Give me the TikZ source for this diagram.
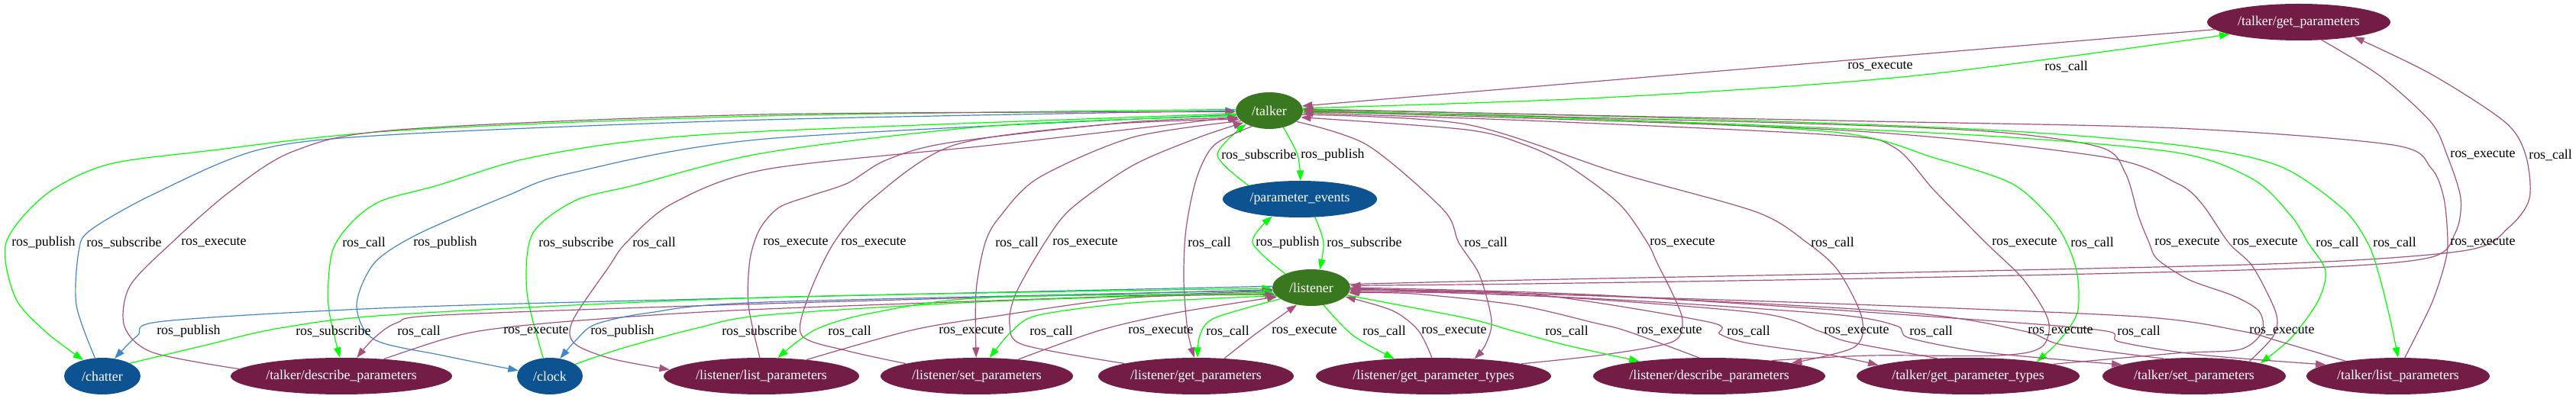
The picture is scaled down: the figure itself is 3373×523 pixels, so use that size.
\documentclass[tikz,border=0pt]{standalone}
\usepackage{fontspec}
\setmainfont{Liberation Serif}
\usetikzlibrary{shapes.geometric,arrows.meta,backgrounds}
\definecolor{rosgreen}{RGB}{58,120,32}
\definecolor{topicblue}{RGB}{14,83,145}
\definecolor{srvplum}{RGB}{114,28,70}
\definecolor{linegreen}{RGB}{0,255,0}
\definecolor{lineblue}{RGB}{64,134,200}
\definecolor{lineplum}{RGB}{165,80,125}

\begin{document}
\begin{tikzpicture}[x=0.75pt,y=-0.75pt,
	rosnode/.style={ellipse,fill=rosgreen,text=white,inner sep=0pt,minimum height=36pt,minimum width=#1*1.5pt,font=\fontsize{13.4pt}{16pt}\selectfont},
	topic/.style={ellipse,fill=topicblue,text=white,inner sep=0pt,minimum height=36pt,minimum width=#1*1.5pt,font=\fontsize{13.4pt}{16pt}\selectfont},
	service/.style={ellipse,fill=srvplum,text=white,inner sep=0pt,minimum height=36pt,minimum width=#1*1.5pt,font=\fontsize{13.4pt}{16pt}\selectfont},
	lbl/.style={anchor=west,inner sep=0pt,font=\fontsize{13.4pt}{16pt}\selectfont},
	gedge/.style={draw=linegreen,line width=0.9pt,-{Triangle[length=10pt,width=7pt]}},
	bedge/.style={draw=lineblue,line width=0.9pt,-{Triangle[length=10pt,width=7pt]}},
	pedge/.style={draw=lineplum,line width=0.9pt,-{Triangle[length=10pt,width=7pt]}}]
	\useasboundingbox (0,0) rectangle (3373,523);
			\node[service=120] (tgp) at (3010,29) {/talker/get\_parameters};
			\node[rosnode=44] (talker) at (1662,145) {/talker};
			\node[topic=101] (pe) at (1702,261) {/parameter\_events};
			\node[rosnode=51] (listener) at (1717,377) {/listener};
			\node[topic=50] (chatter) at (134,493) {/chatter};
			\node[service=145] (tdp) at (447,493) {/talker/describe\_parameters};
			\node[topic=43] (clock) at (720,493) {/clock};
			\node[service=128] (llp) at (997,493) {/listener/list\_parameters};
			\node[service=126] (lsp) at (1279,493) {/listener/set\_parameters};
			\node[service=128] (lgp) at (1566,493) {/listener/get\_parameters};
			\node[service=154] (lgpt) at (1877,493) {/listener/get\_parameter\_types};
			\node[service=152] (ldp) at (2238,493) {/listener/describe\_parameters};
			\node[service=146] (tgpt) at (2577,493) {/talker/get\_parameter\_types};
			\node[service=120] (tsp) at (2873,493) {/talker/set\_parameters};
			\node[service=120] (tlp) at (3140,493) {/talker/list\_parameters};

			\node[lbl] (l1) at (2419,87) {ros\_execute};
			\node[lbl] (l2) at (2677,87) {ros\_call};
			\node[lbl] (l3) at (1599,203) {ros\_subscribe};
			\node[lbl] (l4) at (1703,203) {ros\_publish};
			\node[lbl] (l5) at (3208,203) {ros\_execute};
			\node[lbl] (l6) at (3311,203) {ros\_call};
			\node[lbl] (l7) at (15,318) {ros\_publish};
			\node[lbl] (l8) at (113,318) {ros\_subscribe};
			\node[lbl] (l9) at (237,318) {ros\_execute};
			\node[lbl] (l10) at (448,318) {ros\_call};
			\node[lbl] (l11) at (541,318) {ros\_publish};
			\node[lbl] (l12) at (705,318) {ros\_subscribe};
			\node[lbl] (l13) at (828,318) {ros\_call};
			\node[lbl] (l14) at (999,318) {ros\_execute};
			\node[lbl] (l15) at (1101,318) {ros\_execute};
			\node[lbl] (l16) at (1303,318) {ros\_call};
			\node[lbl] (l17) at (1378,318) {ros\_execute};
			\node[lbl] (l18) at (1555,318) {ros\_call};
			\node[lbl] (l19) at (1644,318) {ros\_publish};
			\node[lbl] (l20) at (1737,318) {ros\_subscribe};
			\node[lbl] (l21) at (1917,318) {ros\_call};
			\node[lbl] (l22) at (2160,318) {ros\_execute};
			\node[lbl] (l23) at (2371,318) {ros\_call};
			\node[lbl] (l24) at (2608,318) {ros\_execute};
			\node[lbl] (l25) at (2711,318) {ros\_call};
			\node[lbl] (l26) at (2821,318) {ros\_execute};
			\node[lbl] (l27) at (2923,318) {ros\_execute};
			\node[lbl] (l28) at (3032,318) {ros\_call};
			\node[lbl] (l29) at (3107,318) {ros\_call};
			\node[lbl] (l30) at (3208,318) {ros\_execute};
			\node[lbl] (l31) at (205,434) {ros\_publish};
			\node[lbl] (l32) at (387,434) {ros\_subscribe};
			\node[lbl] (l33) at (520,434) {ros\_call};
			\node[lbl] (l34) at (659,434) {ros\_execute};
			\node[lbl] (l35) at (773,434) {ros\_publish};
			\node[lbl] (l36) at (945,434) {ros\_subscribe};
			\node[lbl] (l37) at (1084,434) {ros\_call};
			\node[lbl] (l38) at (1229,434) {ros\_execute};
			\node[lbl] (l39) at (1348,434) {ros\_call};
			\node[lbl] (l40) at (1477,434) {ros\_execute};
			\node[lbl] (l41) at (1579,434) {ros\_call};
			\node[lbl] (l42) at (1665,434) {ros\_execute};
			\node[lbl] (l43) at (1784,434) {ros\_call};
			\node[lbl] (l44) at (1861,434) {ros\_execute};
			\node[lbl] (l45) at (2023,434) {ros\_call};
			\node[lbl] (l46) at (2143,434) {ros\_execute};
			\node[lbl] (l47) at (2261,434) {ros\_call};
			\node[lbl] (l48) at (2388,434) {ros\_execute};
			\node[lbl] (l49) at (2500,434) {ros\_call};
			\node[lbl] (l50) at (2655,434) {ros\_execute};
			\node[lbl] (l51) at (2772,434) {ros\_call};
			\node[lbl] (l52) at (2945,434) {ros\_execute};

		\begin{scope}[on background layer]
			\draw[pedge] (tgp.185) -- (talker.8);
			\draw[gedge] plot[smooth] coordinates {(talker.4) (2100,128) (2500,100) (tgp.190)};
			\draw[gedge] plot[smooth] coordinates {(pe.165) (1594,203) (talker.210)};
			\draw[gedge] plot[smooth] coordinates {(talker.310) (1699,203) (pe.88)};
			\draw[pedge] plot[smooth] coordinates {(tgp.322) (3117,100) (3183,160) (3204,203) (3222,260) (3215,305) (3180,338) (3000,352) (2500,364) (2000,372) (listener.3)};
			\draw[pedge] plot[smooth] coordinates {(listener.5) (2000,367) (2500,357) (3000,345) (3230,328) (3285,298) (3312,260) (3307,203) (3280,160) (3183,97) (tgp.345)};

			\draw[gedge] plot[smooth] coordinates {(talker.178) (1000,152) (523,171) (270,198) (140,216) (60,255) (8,318) (20,390) (60,435) (chatter.140)};
			\draw[bedge] plot[smooth] coordinates {(chatter.112) (100,400) (103,330) (118,302) (200,255) (340,196) (523,176) (1000,157) (talker.180)};
			\draw[pedge] plot[smooth] coordinates {(tdp.176) (200,462) (163,428) (170,375) (225,318) (300,252) (385,198) (523,170) (1000,150) (talker.182)};
			\draw[gedge] plot[smooth] coordinates {(talker.185) (1003,172) (813,187) (680,210) (573,243) (500,263) (462,290) (435,330) (430,400) (tdp.94)};
			\draw[bedge] plot[smooth] coordinates {(talker.187) (1003,182) (747,227) (663,257) (547,307) (490,345) (467,400) (490,445) (580,466) (clock.170)};
			\draw[gedge] plot[smooth] coordinates {(clock.110) (690,383) (697,307) (753,263) (830,243) (1003,200) (1300,165) (talker.189)};
			\draw[pedge] plot[smooth] coordinates {(talker.191) (1300,190) (1003,222) (880,267) (820,318) (797,350) (750,420) (752,450) (800,470) (llp.176)};
			\draw[pedge] plot[smooth] coordinates {(llp.95) (980,400) (982,340) (995,300) (1020,272) (1060,257) (1110,240) (1160,210) (1243,187) (1480,160) (talker.193)};
			\draw[pedge] plot[smooth] coordinates {(lsp.170) (1110,460) (1050,440) (1058,390) (1092,318) (1143,260) (1250,190) (1450,163) (talker.196)};
			\draw[pedge] plot[smooth] coordinates {(talker.200) (1483,180) (1360,233) (1310,283) (1290,318) (1278,383) (lsp.92)};
			\draw[pedge] plot[smooth] coordinates {(lgp.170) (1340,452) (1322,425) (1330,385) (1368,318) (1403,273) (1483,217) (1570,180) (talker.205)};
			\draw[pedge] plot[smooth] coordinates {(talker.222) (1590,190) (1567,233) (1553,300) (1550,367) (1555,433) (lgp.95)};
			\draw[pedge] plot[smooth] coordinates {(talker.338) (1790,190) (1890,275) (1910,318) (1937,360) (1953,420) (1945,452) (lgpt.23)};
			\draw[pedge] plot[smooth] coordinates {(lgpt.8) (2100,465) (2190,448) (2203,420) (2190,385) (2170,345) (2157,318) (2120,267) (2053,217) (1997,190) (1920,170) (talker.348)};
			\draw[pedge] plot[smooth] coordinates {(talker.353) (1920,163) (2120,227) (2300,278) (2366,318) (2407,355) (2438,417) (2428,455) (ldp.9)};
			\draw[pedge] plot[smooth] coordinates {(ldp.14) (2450,466) (2617,466) (2673,455) (2682,420) (2650,367) (2600,318) (2533,250) (2480,193) (2400,177) (2000,158) (talker.356)};
			\draw[gedge] plot[smooth] coordinates {(talker.357) (2000,152) (2400,173) (2533,207) (2633,240) (2683,283) (2706,318) (2720,360) (2720,410) (2695,448) (tgpt.12)};
			\draw[pedge] plot[smooth] coordinates {(tgpt.8) (2850,463) (2933,458) (2962,435) (2958,408) (2925,388) (2867,367) (2825,340) (2814,318) (2800,283) (2783,227) (2750,193) (2600,172) (2300,160) (talker.0)};
			\draw[pedge] plot[smooth] coordinates {(tsp.15) (2977,440) (2980,410) (2950,350) (2918,318) (2883,267) (2850,240) (2750,205) (2400,170) (talker.359)};
			\draw[gedge] plot[smooth] coordinates {(talker.1) (2200,160) (2600,178) (2850,200) (2950,235) (3000,283) (3022,318) (3045,355) (3035,395) (3000,443) (tsp.11)};
			\draw[gedge] plot[smooth] coordinates {(talker.3) (2200,155) (2600,170) (2850,190) (2983,217) (3067,273) (3100,318) (3115,360) (3130,420) (tlp.90)};
			\draw[pedge] plot[smooth] coordinates {(tlp.70) (3183,400) (3200,350) (3205,318) (3200,260) (3183,220) (3133,190) (2850,168) (2400,158) (talker.2)};

			\draw[gedge] plot[smooth] coordinates {(listener.152) (1640,318) (pe.212)};
			\draw[gedge] plot[smooth] coordinates {(pe.310) (1733,318) (listener.65)};

			\draw[bedge] plot[smooth] coordinates {(listener.178) (1003,390) (523,403) (215,421) (180,440) (chatter.55)};
			\draw[gedge] plot[smooth] coordinates {(chatter.25) (267,453) (367,430) (523,412) (1003,390) (listener.181)};
			\draw[pedge] plot[smooth] coordinates {(listener.183) (1003,398) (580,413) (520,423) (490,443) (tdp.50)};
			\draw[pedge] plot[smooth] coordinates {(tdp.22) (580,445) (640,432) (760,420) (1003,405) (listener.185)};
			\draw[bedge] plot[smooth] coordinates {(listener.184) (1003,396) (850,410) (780,425) (755,445) (clock.60)};
			\draw[gedge] plot[smooth] coordinates {(clock.25) (813,457) (913,430) (1003,413) (1300,395) (listener.187)};
			\draw[gedge] plot[smooth] coordinates {(listener.189) (1293,390) (1143,410) (1068,432) (llp.48)};
			\draw[pedge] plot[smooth] coordinates {(llp.20) (1193,433) (1300,415) (1483,390) (listener.191)};
			\draw[gedge] plot[smooth] coordinates {(listener.193) (1483,397) (1360,413) (1325,434) (lsp.55)};
			\draw[pedge] plot[smooth] coordinates {(lsp.22) (1440,433) (1540,410) (listener.195)};
			\draw[gedge] plot[smooth] coordinates {(listener.200) (1590,417) (1571,440) (lgp.85)};
			\draw[pedge] plot[smooth] coordinates {(lgp.32) (1645,437) (listener.230)};
			\draw[gedge] plot[smooth] coordinates {(listener.305) (1772,440) (lgpt.156)};
			\draw[pedge] plot[smooth] coordinates {(lgpt.95) (1857,433) (1823,407) (listener.345)};
			\draw[gedge] plot[smooth] coordinates {(listener.348) (1920,417) (1982,434) (2053,453) (ldp.168)};
			\draw[pedge] plot[smooth] coordinates {(ldp.119) (2130,434) (2087,423) (1987,400) (1850,385) (listener.352)};
			\draw[pedge] plot[smooth] coordinates {(listener.356) (2000,385) (2237,422) (2252,438) (2290,450) (2400,466) (tgpt.173)};
			\draw[pedge] plot[smooth] coordinates {(tgpt.150) (2420,448) (2382,434) (2300,410) (2000,387) (listener.354)};
			\draw[pedge] plot[smooth] coordinates {(listener.358) (2100,392) (2400,412) (2483,427) (2500,443) (2600,462) (tsp.171)};
			\draw[pedge] plot[smooth] coordinates {(tsp.150) (2700,452) (2650,434) (2500,410) (2100,388) (listener.357)};
			\draw[pedge] plot[smooth] coordinates {(listener.0) (2100,387) (2600,420) (2758,434) (2775,448) (2880,465) (tlp.171)};
			\draw[pedge] plot[smooth] coordinates {(tlp.164) (2983,447) (2935,434) (2800,415) (2400,398) (2000,385) (listener.359)};
		\end{scope}
\end{tikzpicture}
\end{document}
